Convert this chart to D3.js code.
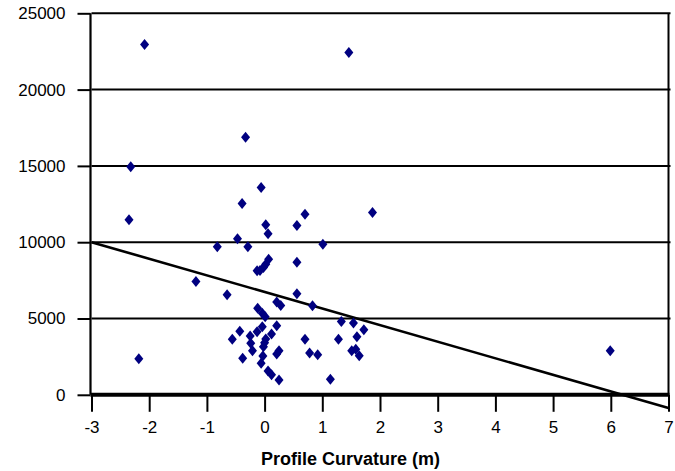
<!DOCTYPE html>
<html>
<head>
<meta charset="utf-8">
<script src="https://cdn.jsdelivr.net/npm/d3@7"></script>
<style>
  html, body { margin: 0; padding: 0; background: #fff; }
  svg { display: block; }
  text { font-family: Arial, "Liberation Sans", sans-serif; fill: #000; }
</style>
</head>
<body>
<svg id="chart" width="675" height="471"></svg>
<script>
// ---- data ----
const curvature = [
  -2.08, 1.46, -0.33, -2.32, -0.06, 0.70, 1.87, 1.01, -0.39, 0.56,
  0.02, 0.06, -0.47, -0.82, -0.29, 0.07, 0.02, -0.13, -0.02, -0.08,
  0.56, -0.65, 0.56, 0.21, 0.28, 0.83, -0.12, -0.04, 0.01, 1.33,
  1.54, 1.72, 0.21, -0.04, -0.43, -0.13, 0.12, -0.56, -0.25, -0.24,
  0.02, 0.70, 1.28, 1.60, -0.21, -0.02, 0.25, 0.21, 0.78, 0.92,
  1.51, 1.58, 1.64, -0.38, -0.03, -0.06, 0.06, 0.12, 0.25, 1.14,
  -2.35, -2.18, -1.19, 5.99, 0.00
];
const response = [
  22960, 22430, 16870, 14940, 13580, 11830, 11950, 9860, 12540, 11100,
  11140, 10550, 10220, 9700, 9700, 8880, 8550, 8130, 8350, 8150,
  8680, 6560, 6620, 6080, 5860, 5840, 5670, 5340, 5120, 4810,
  4700, 4260, 4530, 4460, 4160, 4130, 3980, 3640, 3850, 3370,
  3650, 3640, 3640, 3810, 2890, 3150, 2890, 2670, 2740, 2630,
  2890, 2980, 2560, 2390, 2540, 2060, 1560, 1320, 970, 1020,
  11470, 2360, 7430, 2890, 3410
];
const trendX = [-3, 7];
const trendY = [10000, -870];
const xTicks = [-3, -2, -1, 0, 1, 2, 3, 4, 5, 6, 7];
const yTicks = [0, 5000, 10000, 15000, 20000, 25000];
const xTitle = "Profile Curvature (m)";

// ---- layout ----
const svg = d3.select("#chart");
const x = d3.scaleLinear().domain([-3, 7]).range([91.5, 668.5]);
const y = d3.scaleLinear().domain([0, 25000]).range([394.8, 13.3]);
const fmt = d => String(d);

// horizontal gridlines
svg.append("g").selectAll("line").data(yTicks.filter(d => d > 0)).join("line")
  .attr("x1", x(-3)).attr("x2", x(7) + 2)
  .attr("y1", d => y(d)).attr("y2", d => y(d))
  .attr("stroke", "#000").attr("stroke-width", 2);

// right border
svg.append("line")
  .attr("x1", x(7)).attr("x2", x(7))
  .attr("y1", y(25000)).attr("y2", y(0))
  .attr("stroke", "#000").attr("stroke-width", 2);

// y axis
const yAxis = svg.append("g")
  .attr("transform", `translate(${x(-3) - 1},0)`)
  .call(d3.axisLeft(y).tickValues(yTicks).tickSize(13).tickPadding(12).tickFormat(fmt));
yAxis.select(".domain").attr("stroke", "#000").attr("stroke-width", 2.2)
  .attr("d", `M0,${y(25000)}V${y(0)}`);
yAxis.selectAll(".tick line").attr("stroke", "#000").attr("stroke-width", 2);
yAxis.selectAll(".tick text").attr("font-size", 17).attr("fill", "#000")
  .attr("font-family", "Arial, 'Liberation Sans', sans-serif");

// x axis (zero line)
const xAxis = svg.append("g")
  .attr("transform", `translate(0,${y(0)})`)
  .call(d3.axisBottom(x).tickValues(xTicks).tickSize(17).tickPadding(9).tickFormat(fmt));
xAxis.select(".domain").remove();
xAxis.append("line").attr("x1", x(-3) - 1).attr("x2", x(7) + 1)
  .attr("y1", 0).attr("y2", 0).attr("stroke", "#000").attr("stroke-width", 4);
xAxis.selectAll(".tick line").attr("stroke", "#000").attr("stroke-width", 2);
xAxis.selectAll(".tick text").attr("font-size", 17).attr("fill", "#000")
  .attr("font-family", "Arial, 'Liberation Sans', sans-serif");

// trend line
svg.append("path")
  .datum(trendX.map((d, i) => [d, trendY[i]]))
  .attr("d", d3.line().x(d => x(d[0])).y(d => y(d[1])))
  .attr("fill", "none").attr("stroke", "#000").attr("stroke-width", 2.6);

// points (diamonds)
const diamond = "M0,-5.5L4.5,0L0,5.5L-4.5,0Z";
svg.append("g").selectAll("path").data(curvature.map((d, i) => [d, response[i]])).join("path")
  .attr("transform", d => `translate(${x(d[0])},${y(d[1])})`)
  .attr("d", diamond)
  .attr("fill", "#000080");

// x title
svg.append("text")
  .attr("x", 350.5).attr("y", 465)
  .attr("text-anchor", "middle")
  .attr("font-size", 18).attr("font-weight", "bold")
  .text(xTitle);
</script>
</body>
</html>
